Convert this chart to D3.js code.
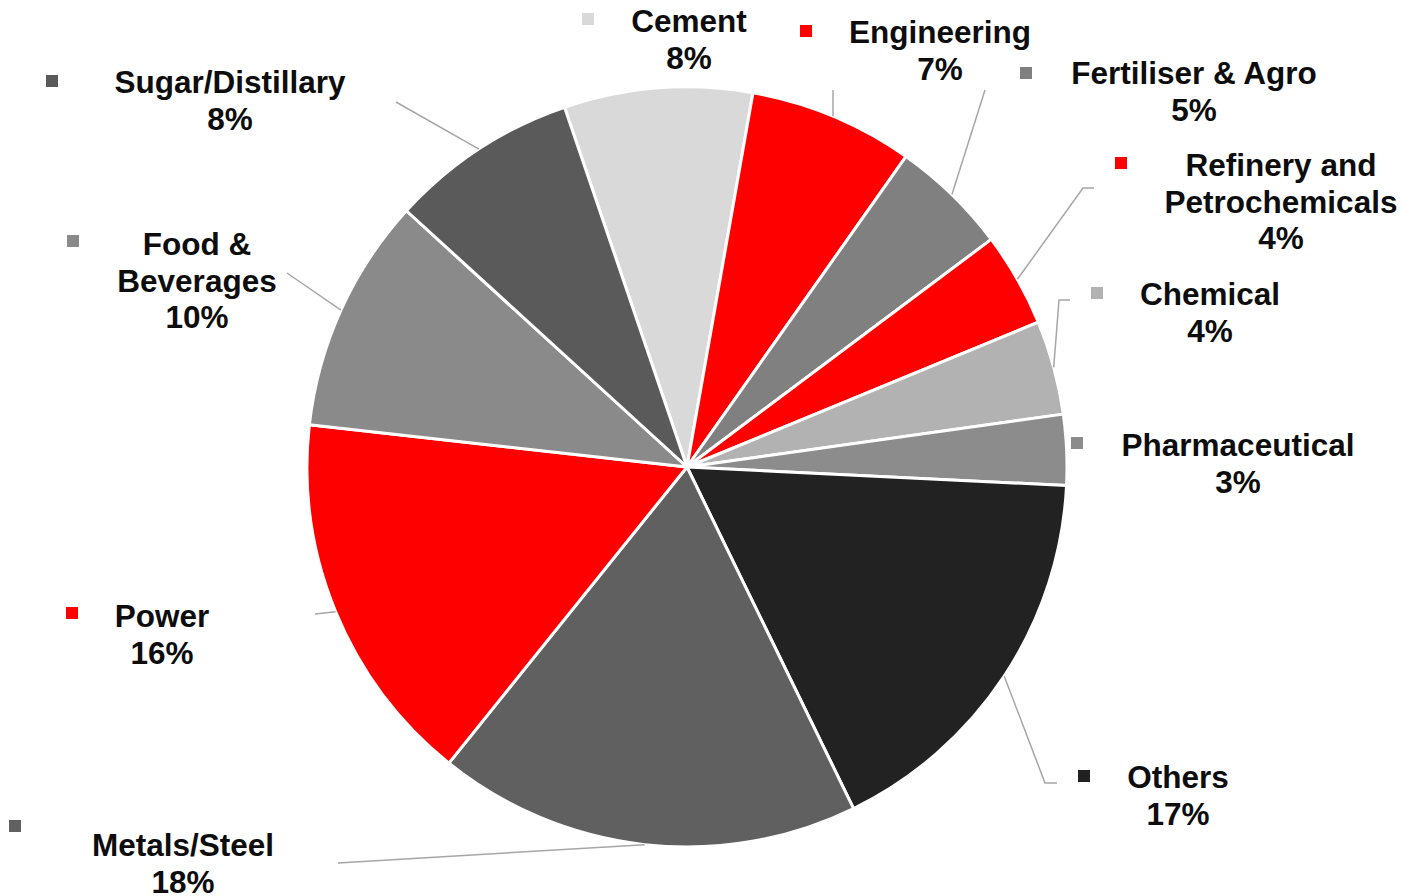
<!DOCTYPE html>
<html>
<head>
<meta charset="utf-8">
<script src="https://cdn.jsdelivr.net/npm/d3@7"></script>
<style>
  body { margin: 0; background: #fff; }
  svg { display: block; }
  text { font-family: "Liberation Sans", Arial, sans-serif; font-weight: bold; fill: #0d0d0d; }
</style>
</head>
<body>
<div id="chart"></div>
<script>
// data
var sectors = ['Cement', 'Engineering', 'Fertiliser & Agro', 'Refinery and Petrochemicals', 'Chemical',
               'Pharmaceutical', 'Others', 'Metals/Steel', 'Power', 'Food & Beverages', 'Sugar/Distillary'];
var shares = [8, 7, 5, 4, 4, 3, 17, 18, 16, 10, 8];
var colours = ['#d9d9d9', '#ff0000', '#808080', '#ff0000', '#b2b2b2',
               '#8c8c8c', '#222222', '#606060', '#ff0000', '#8a8a8a', '#5a5a5a'];

// label layout: text lines, centre x, first baseline, key square, leader line points (from pie edge outwards)
var labels = [
  { lines: ['Cement'], x: 689, y: 32, key: [582, 13], leader: null },
  { lines: ['Engineering'], x: 940, y: 43, key: [800, 25], leader: [[833, 90]] },
  { lines: ['Fertiliser & Agro'], x: 1194, y: 84, key: [1020, 67], leader: [[985, 90]] },
  { lines: ['Refinery and', 'Petrochemicals'], x: 1281, y: 176, key: [1115, 157], leader: [[1083, 188], [1094, 188]] },
  { lines: ['Chemical'], x: 1210, y: 305, key: [1091, 287], leader: [[1059, 300], [1070, 300]] },
  { lines: ['Pharmaceutical'], x: 1238, y: 456, key: [1071, 437], leader: null },
  { lines: ['Others'], x: 1178, y: 788, key: [1078, 770], leader: [[1045, 783], [1057, 783]] },
  { lines: ['Metals/Steel'], x: 183, y: 856, key: [9, 820], leader: [[338, 863]] },
  { lines: ['Power'], x: 162, y: 627, key: [66, 607], leader: [[315, 614]] },
  { lines: ['Food &', 'Beverages'], x: 197, y: 255, key: [67, 235], leader: [[287, 273]] },
  { lines: ['Sugar/Distillary'], x: 230, y: 93, key: [46, 75], leader: [[396, 102]] }
];

var width = 1404, height = 896;
var cx = 687, cy = 467, radius = 380;

var svg = d3.select('#chart')
  .append('svg')
    .attr('width', width)
    .attr('height', height);

var pie = d3.pie()
  .sort(null)
  .value(function(d) { return d; })
  .startAngle(-18.8 * Math.PI / 180)
  .endAngle((360 - 18.8) * Math.PI / 180);

var arcs = pie(shares);

var arc = d3.arc()
  .innerRadius(0)
  .outerRadius(radius);

var g = svg.append('g')
  .attr('transform', 'translate(' + cx + ',' + cy + ')');

g.selectAll('path.slice')
  .data(arcs)
  .enter().append('path')
    .attr('class', 'slice')
    .attr('d', arc)
    .attr('fill', function(d, i) { return colours[i]; })
    .attr('stroke', '#fff')
    .attr('stroke-width', 3)
    .attr('stroke-linejoin', 'round');

// leader lines start on the rim at the slice's middle angle
var line = d3.line();
arcs.forEach(function(d, i) {
  var lab = labels[i];
  if (!lab.leader) return;
  var mid = (d.startAngle + d.endAngle) / 2;
  var start = [cx + radius * Math.sin(mid), cy - radius * Math.cos(mid)];
  svg.append('path')
    .attr('d', line([start].concat(lab.leader)))
    .attr('fill', 'none')
    .attr('stroke', '#a6a6a6')
    .attr('stroke-width', 1.5);
});

// labels with their colour keys
labels.forEach(function(lab, i) {
  svg.append('rect')
    .attr('x', lab.key[0])
    .attr('y', lab.key[1])
    .attr('width', 12)
    .attr('height', 12)
    .attr('fill', colours[i]);

  var t = svg.append('text')
    .attr('text-anchor', 'middle')
    .attr('font-size', 31.5);
  var rows = lab.lines.concat([shares[i] + '%']);
  rows.forEach(function(s, j) {
    t.append('tspan')
      .attr('x', lab.x)
      .attr('y', lab.y + j * 36.5)
      .text(s);
  });
});
</script>
</body>
</html>
